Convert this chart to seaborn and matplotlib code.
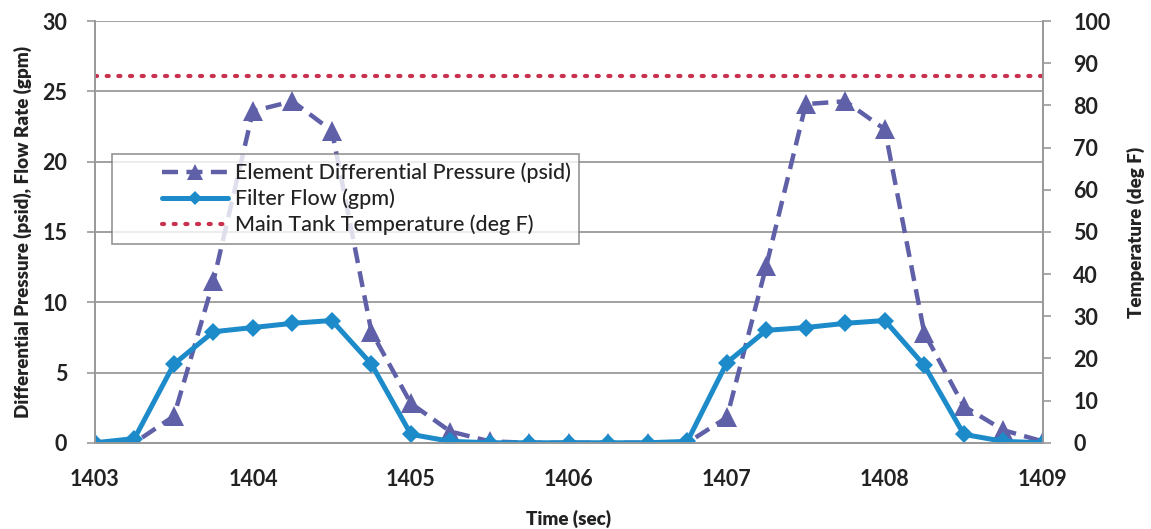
import numpy as np
import pandas as pd
import matplotlib
matplotlib.use("Agg")
import matplotlib.pyplot as plt
import seaborn as sns
from matplotlib.lines import Line2D
from matplotlib.legend_handler import HandlerLine2D

# Time stamps (sec), one sample every 0.25 s
time_sec = [1403.00, 1403.25, 1403.50, 1403.75, 1404.00, 1404.25, 1404.50, 1404.75,
            1405.00, 1405.25, 1405.50, 1405.75, 1406.00, 1406.25, 1406.50, 1406.75,
            1407.00, 1407.25, 1407.50, 1407.75, 1408.00, 1408.25, 1408.50, 1408.75,
            1409.00]

# Element differential pressure (psid)
diff_pressure = [0.0, 0.0, 1.9, 11.5, 23.6, 24.3, 22.2, 7.9,
                 2.8, 0.8, 0.1, 0.0, 0.0, 0.0, 0.0, 0.0,
                 1.8, 12.6, 24.1, 24.3, 22.3, 7.8, 2.6, 0.9,
                 0.1]

# Filter flow (gpm)
filter_flow = [0.0, 0.3, 5.6, 7.9, 8.2, 8.5, 8.7, 5.6,
               0.6, 0.1, 0.0, 0.0, 0.0, 0.0, 0.0, 0.1,
               5.7, 8.0, 8.2, 8.5, 8.7, 5.5, 0.6, 0.1,
               0.0]

# Main tank temperature (deg F)
tank_temp = [87.0] * len(time_sec)

series_names = ["Element Differential Pressure (psid)",
                "Filter Flow (gpm)",
                "Main Tank Temperature (deg F)"]

left_ticks = [0, 5, 10, 15, 20, 25, 30]
right_ticks = [0, 10, 20, 30, 40, 50, 60, 70, 80, 90, 100]
x_ticks = [1403, 1404, 1405, 1406, 1407, 1408, 1409]

c_press = "#5f60a8"
c_flow = "#1d8bc9"
c_temp = "#c8324f"
c_grid = "#9a9a9a"
c_text = "#222222"


class IndentedLineHandler(HandlerLine2D):
    """Legend line sample drawn only over the right part of the handle box."""

    def __init__(self, frac=0.38, **kw):
        super().__init__(**kw)
        self.frac = frac

    def create_artists(self, legend, orig_handle, xdescent, ydescent,
                       width, height, fontsize, trans):
        shift = self.frac * width
        return super().create_artists(legend, orig_handle, xdescent - shift,
                                      ydescent, width - shift, height,
                                      fontsize, trans)


sns.set_theme(style="white")
plt.rcParams["font.family"] = ["Lato", "DejaVu Sans"]

df = pd.DataFrame({"time": time_sec, "press": diff_pressure,
                   "flow": filter_flow, "temp": tank_temp})

fig = plt.figure(figsize=(11.51, 5.29), dpi=100)
ax = fig.add_axes([0.0825, 0.163, 0.8235, 0.797])
ax2 = ax.twinx()

# horizontal gridlines on the left axis
for v in left_ticks[1:]:
    ax.axhline(v, color=c_grid, lw=1.3, zorder=0)

press_dash = [3.6, 1.9]
temp_dots = (0, (0.5, 2.3))

sns.lineplot(data=df, x="time", y="press", ax=ax, color=c_press, lw=3.2,
             marker="^", markersize=14, markeredgewidth=0, zorder=3)
ax.lines[-1].set_dashes(press_dash)
sns.lineplot(data=df, x="time", y="flow", ax=ax, color=c_flow, lw=3.6,
             marker="D", markersize=9, markeredgewidth=0, zorder=4)
sns.lineplot(data=df, x="time", y="temp", ax=ax2, color=c_temp, lw=3.0,
             zorder=2)
ax2.lines[-1].set_linestyle(temp_dots)
ax2.lines[-1].set_dash_capstyle("round")

ax.set_xlim(1403, 1409)
ax.set_ylim(0, 30)
ax2.set_ylim(0, 100)
ax.set_xticks(x_ticks)
ax.set_yticks(left_ticks)
ax2.set_yticks(right_ticks)

for a in (ax, ax2):
    for s in a.spines.values():
        s.set_color(c_grid)
        s.set_linewidth(1.3)
    a.spines["top"].set_visible(False)

ax.tick_params(axis="y", direction="out", length=6, width=1.2,
               color=c_grid, labelcolor=c_text, labelsize=15.5, pad=14)
ax.tick_params(axis="x", direction="out", length=5, width=1.2,
               color=c_grid, labelcolor=c_text, labelsize=15.5, pad=14)
ax2.tick_params(axis="y", direction="out", length=6, width=1.2,
                color=c_grid, labelcolor=c_text, labelsize=15.5, pad=16)
for lab in ax.get_xticklabels() + ax.get_yticklabels() + ax2.get_yticklabels():
    lab.set_fontweight("bold")

ax.set_xlabel("Time (sec)", fontsize=13.5, fontweight="heavy", color=c_text, labelpad=14)
ax.set_ylabel("Differential Pressure (psid), Flow Rate (gpm)", fontsize=13.5,
              fontweight="heavy", color=c_text, labelpad=7)
ax2.set_ylabel("Temperature (deg F)", fontsize=13.5, fontweight="heavy",
               color=c_text, labelpad=12)

handles = [
    Line2D([], [], color=c_press, lw=3.2, dashes=press_dash, marker="^",
           markersize=11, markeredgewidth=0),
    Line2D([], [], color=c_flow, lw=3.6, marker="D", markersize=7,
           markeredgewidth=0),
    Line2D([], [], color=c_temp, lw=3.0, linestyle=temp_dots,
           dash_capstyle="round"),
]
leg = ax2.legend(handles, series_names, loc="upper left",
                 bbox_to_anchor=(0.018, 0.685), frameon=True, fancybox=False,
                 edgecolor="#7a7a7a", handlelength=5.0,
                 prop={"size": 15.5, "weight": "medium"},
                 borderpad=0.4, labelspacing=0.25, handletextpad=0.3,
                 borderaxespad=0,
                 handler_map={Line2D: IndentedLineHandler(frac=0.38)})
leg.get_frame().set_linewidth(1.2)
for t in leg.get_texts():
    t.set_color(c_text)
leg.set_zorder(10)

fig.savefig("out.png", dpi=100, facecolor="white")
